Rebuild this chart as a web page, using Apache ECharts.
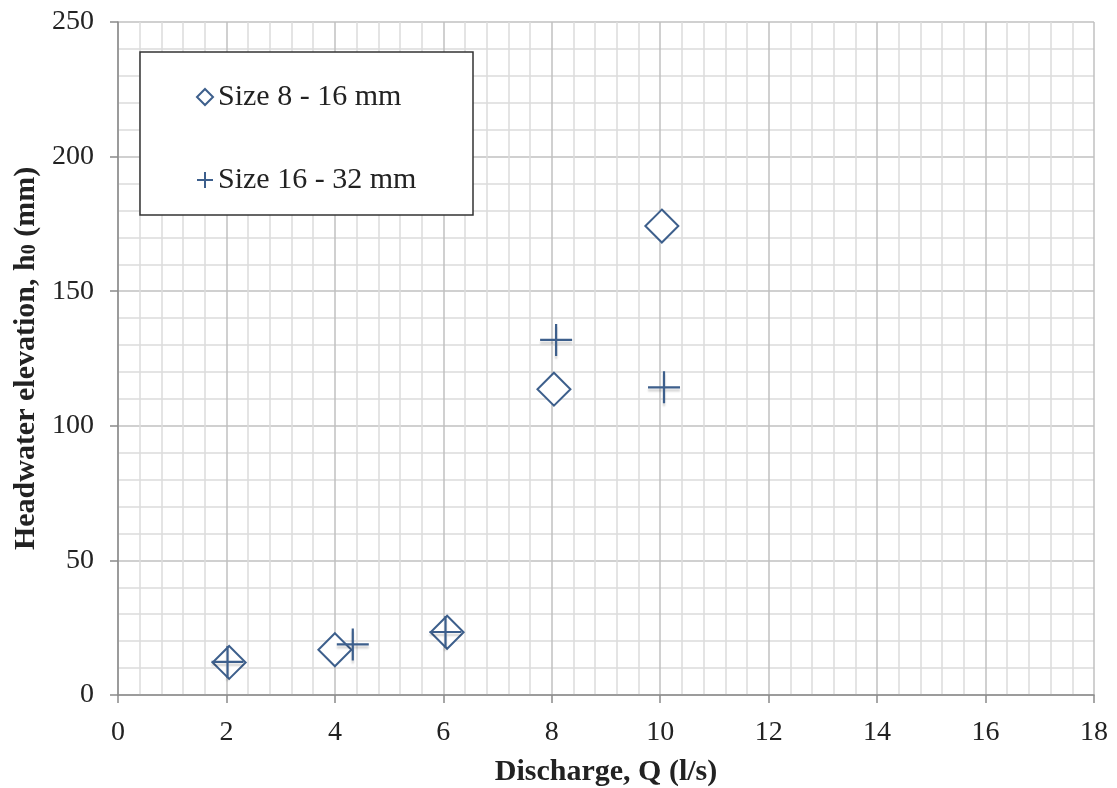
<!DOCTYPE html>
<html>
<head>
<meta charset="utf-8">
<script src="https://cdn.jsdelivr.net/npm/echarts@6/dist/echarts.min.js"></script>
<style>html,body{margin:0;padding:0;background:#fff}#c{width:1117px;height:788px}</style>
</head>
<body>
<div id="c"></div>
<script>
const seriesNames = ['Size 8 - 16 mm', 'Size 16 - 32 mm'];
const size8to16 = [[2.05, 12.1], [4.0, 16.8], [6.07, 23.3], [8.04, 113.6], [10.03, 174.2]];
const size16to32 = [[2.02, 12.3], [4.33, 18.8], [6.04, 23.4], [8.08, 131.9], [10.07, 114.3]];
const xTicks = [0, 2, 4, 6, 8, 10, 12, 14, 16, 18];
const yTicks = [0, 50, 100, 150, 200, 250];

const FONT = '"Liberation Serif", "Times New Roman", serif';
const MARK = '#3d5f8c';
const PLUS = 'path://M0,10 L20,10 M10,0 L10,20';

const chart = echarts.init(document.getElementById('c'), null, {renderer: 'canvas'});
chart.setOption({
  animation: false,
  backgroundColor: '#fff',
  grid: {left: 118, right: 23, top: 22, bottom: 93, containLabel: false, outerBoundsMode: 'none'},
  xAxis: {
    type: 'value', min: xTicks[0], max: xTicks[xTicks.length - 1], interval: 2,
    name: 'Discharge, Q (l/s)', nameLocation: 'middle', nameGap: 62,
    nameTextStyle: {fontFamily: FONT, fontWeight: 'bold', fontSize: 30, color: '#222'},
    axisLine: {show: true, onZero: false, lineStyle: {color: '#8a8a8a', width: 1.5}},
    axisTick: {show: true, length: 8, lineStyle: {color: '#8a8a8a', width: 1.5}},
    axisLabel: {fontFamily: FONT, fontSize: 28, color: '#222', margin: 24},
    splitLine: {show: true, lineStyle: {color: '#c0c0c0', width: 1.5}},
    minorTick: {show: true, splitNumber: 5, length: 0},
    minorSplitLine: {show: true, lineStyle: {color: '#dbdbdb', width: 1.5}}
  },
  yAxis: {
    type: 'value', min: yTicks[0], max: yTicks[yTicks.length - 1], interval: 50,
    name: 'Headwater elevation, h{s|0} (mm)', nameLocation: 'middle', nameGap: 76,
    nameTextStyle: {fontFamily: FONT, fontWeight: 'bold', fontSize: 30, color: '#222',
      rich: {s: {fontFamily: FONT, fontWeight: 'bold', fontSize: 20, color: '#222', padding: [8, 0, 0, 0]}}},
    axisLine: {show: true, lineStyle: {color: '#8a8a8a', width: 1.5}},
    axisTick: {show: true, length: 8, lineStyle: {color: '#8a8a8a', width: 1.5}},
    axisLabel: {fontFamily: FONT, fontSize: 28, color: '#222', margin: 24},
    splitLine: {show: true, lineStyle: {color: '#c0c0c0', width: 1.5}},
    minorTick: {show: true, splitNumber: 5, length: 0},
    minorSplitLine: {show: true, lineStyle: {color: '#dbdbdb', width: 1.5}}
  },
  graphic: [{
    type: 'rect', z: 3,
    shape: {x: 140, y: 52, width: 333, height: 163},
    style: {fill: '#fff', stroke: '#333', lineWidth: 1.5}
  }],
  legend: {
    z: 5, orient: 'vertical', left: 196, top: 82, padding: 0, itemGap: 53,
    itemWidth: 16, itemHeight: 16,
    textStyle: {fontFamily: FONT, fontSize: 30, color: '#222', lineHeight: 30, padding: [0, 0, 0, 0]},
    data: [
      {name: seriesNames[0], icon: 'diamond'},
      {name: seriesNames[1], icon: PLUS}
    ]
  },
  series: [
    {
      name: seriesNames[0], type: 'scatter', data: size8to16, z: 2,
      symbol: 'diamond', symbolSize: [33, 33],
      itemStyle: {color: '#fff', borderColor: MARK, borderWidth: 2, opacity: 1}
    },
    {
      name: seriesNames[1], type: 'scatter', data: size16to32, z: 3,
      symbol: PLUS, symbolSize: [32, 32],
      itemStyle: {color: 'rgba(0,0,0,0)', borderColor: MARK, borderWidth: 2.2, opacity: 1,
        shadowColor: 'rgba(0,0,0,0.18)', shadowBlur: 2, shadowOffsetY: 3}
    }
  ]
});
</script>
</body>
</html>
